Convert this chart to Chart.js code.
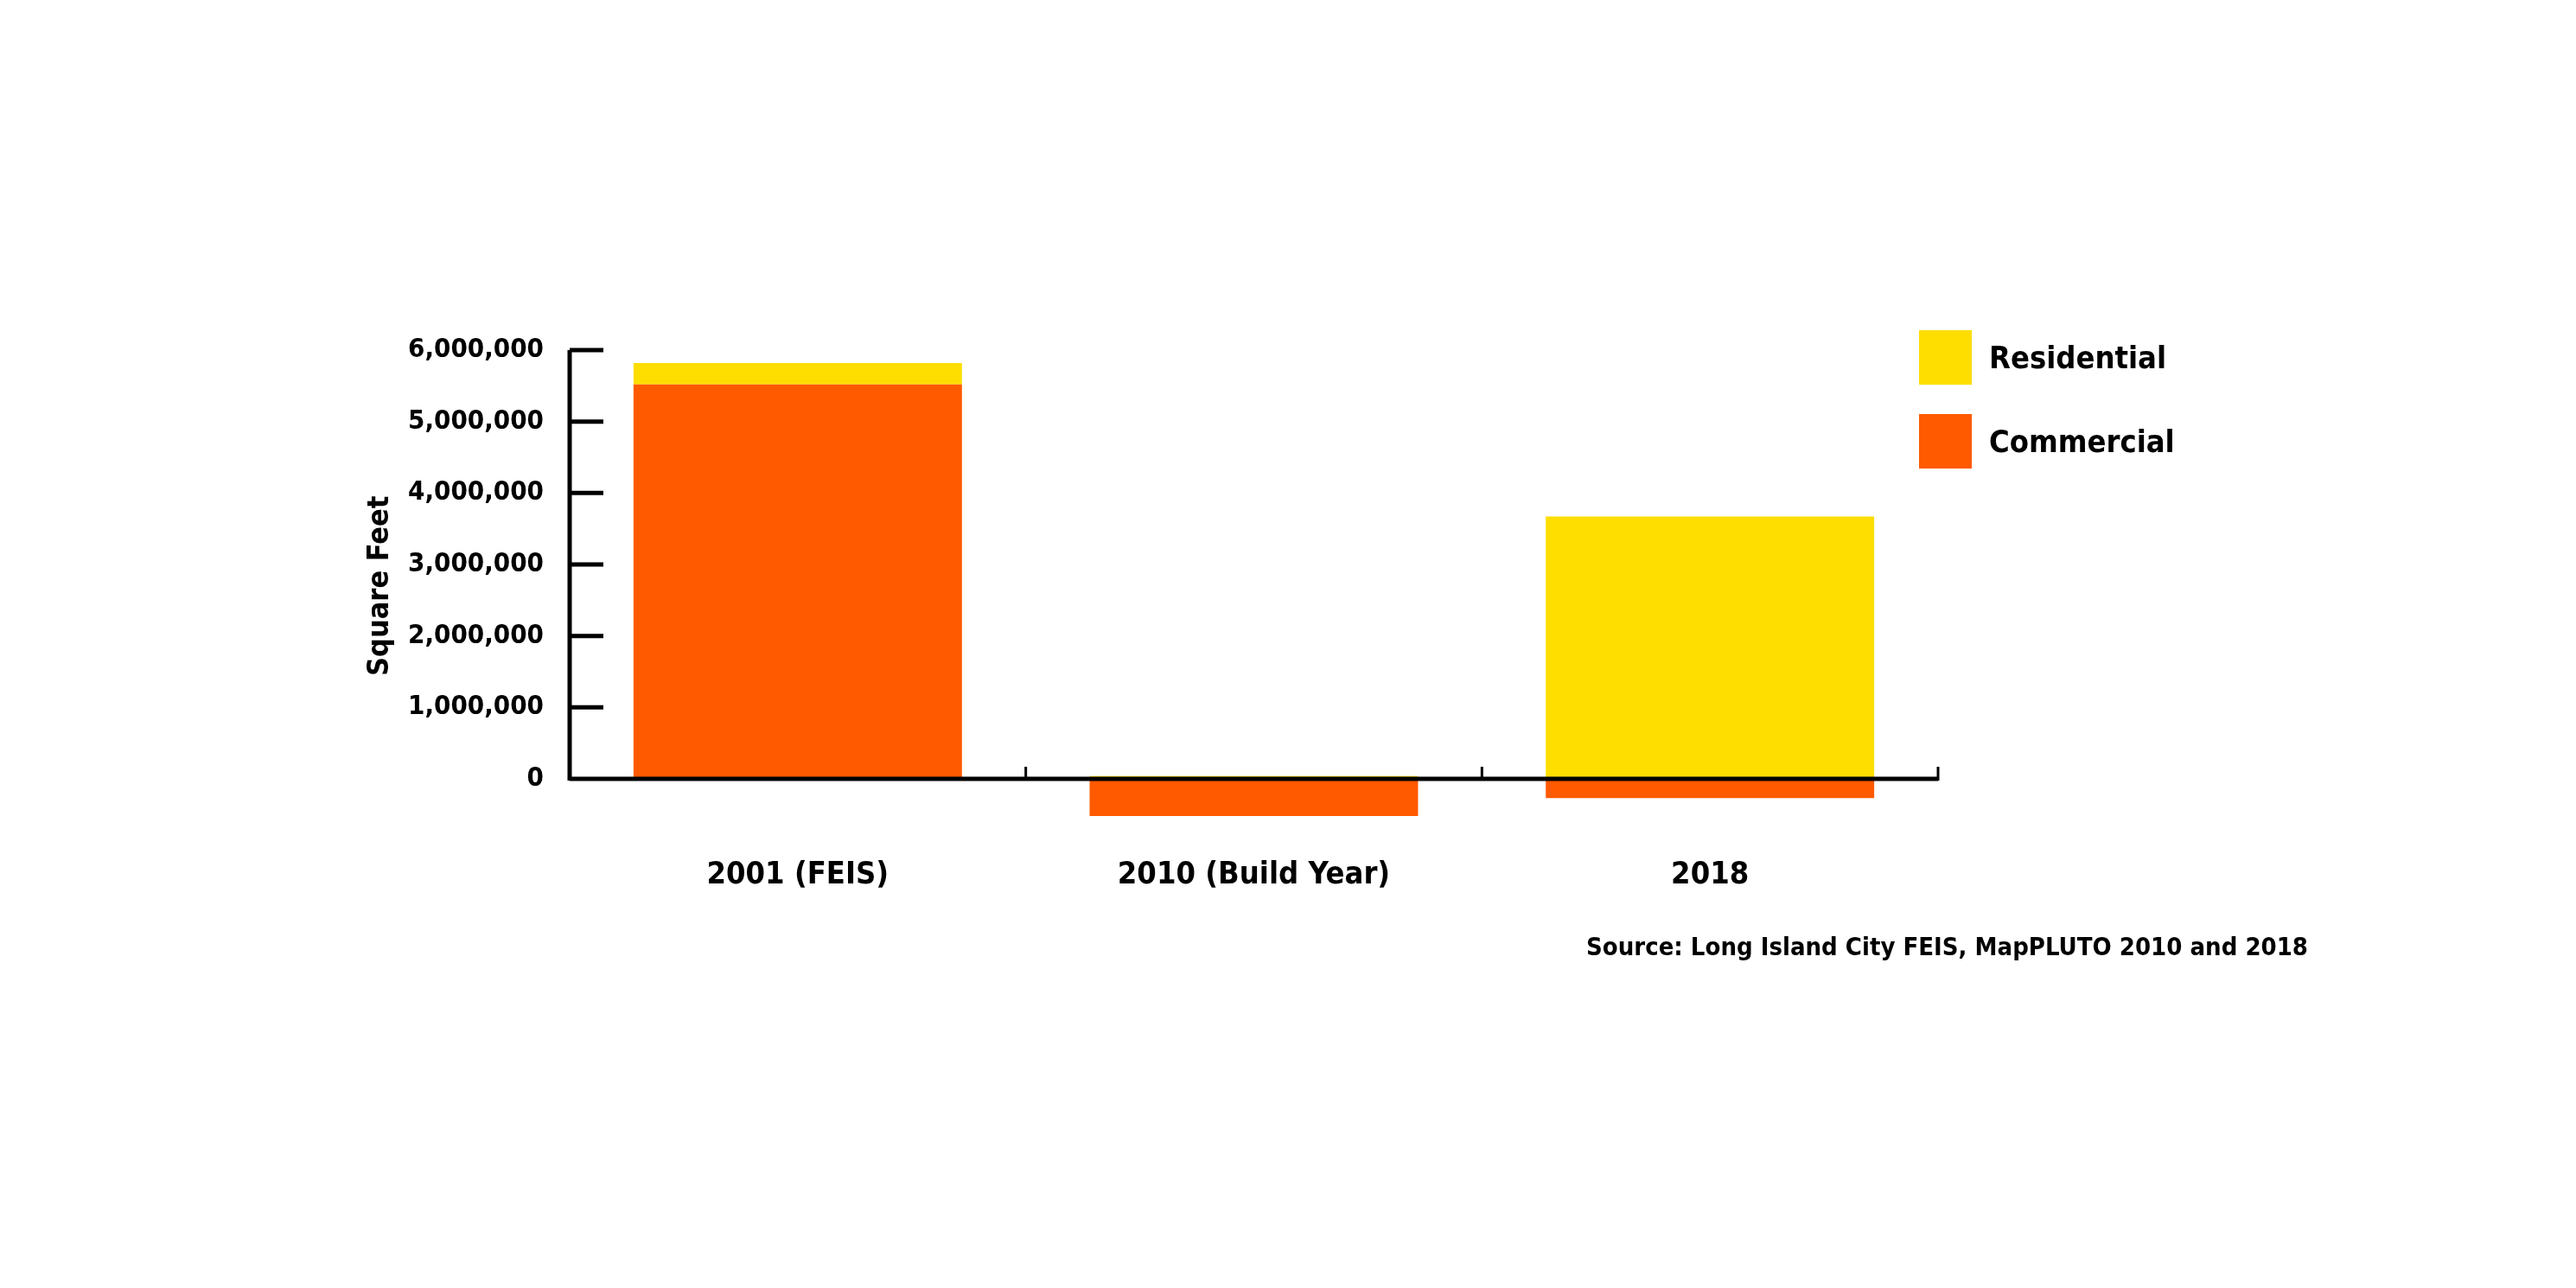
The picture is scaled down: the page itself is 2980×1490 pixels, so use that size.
<!DOCTYPE html>
<html>
<head>
<meta charset="utf-8">
<script src="https://cdn.jsdelivr.net/npm/chart.js@4"></script>
<style>
  body { margin: 0; background: #fff; }
  #wrap { position: relative; width: 2980px; height: 1490px; }
  .font { font-family: 'Liberation Sans Narrow', 'DejaVu Sans Condensed', sans-serif; font-weight: bold; color: #000; }
  .legend-item { position: absolute; left: 2220px; display: flex; align-items: center; font-size: 36px; }
  .swatch { width: 61px; height: 63px; margin-right: 20px; }
  #source { position: absolute; left: 1835px; top: 1078px; font-size: 29px; }
</style>
</head>
<body>
<div id="wrap">
  <canvas id="chart" width="2980" height="1490"></canvas>
  <div id="legend"></div>
  <div id="source" class="font">Source: Long Island City FEIS, MapPLUTO 2010 and 2018</div>
</div>
<script>
// Data
const categories = ['2001 (FEIS)', '2010 (Build Year)', '2018'];
const commercial = [5520000, -520000, -270000];
const residential = [300000, 40000, 3670000];
const seriesNames = ['Residential', 'Commercial'];
const seriesColors = { Residential: '#FEDD00', Commercial: '#FF5A00' };
const FONT = "'Liberation Sans Narrow', 'DejaVu Sans Condensed', sans-serif";

// Legend (Residential on top)
const legendEl = document.getElementById('legend');
seriesNames.forEach(function (name, i) {
  const item = document.createElement('div');
  item.className = 'legend-item font';
  item.style.top = (382 + i * 97) + 'px';
  item.innerHTML = '<div class="swatch" style="background:' + seriesColors[name] + '"></div>' + name;
  legendEl.appendChild(item);
});

// custom axis lines and ticks
const axesPlugin = {
  id: 'axesPlugin',
  afterDatasetsDraw(chart) {
    const ctx = chart.ctx;
    const y = chart.scales.y;
    const y0 = y.getPixelForValue(0);
    const yTop = y.getPixelForValue(6000000);
    const left = chart.chartArea.left, right = chart.chartArea.right;
    ctx.save();
    ctx.strokeStyle = '#000';
    ctx.lineWidth = 5;
    ctx.beginPath();
    ctx.moveTo(left, yTop); ctx.lineTo(left, y0 + 2);
    ctx.moveTo(left, y0); ctx.lineTo(right, y0);
    for (let v = 1000000; v <= 6000000; v += 1000000) {
      const py = y.getPixelForValue(v);
      ctx.moveTo(left, py); ctx.lineTo(left + 39, py);
    }
    ctx.stroke();
    ctx.lineWidth = 3;
    ctx.beginPath();
    const cw = (right - left) / categories.length;
    for (let k = 1; k <= categories.length; k++) {
      ctx.moveTo(left + cw * k, y0 - 14); ctx.lineTo(left + cw * k, y0 + 2);
    }
    ctx.stroke();
    ctx.restore();
  }
};

new Chart(document.getElementById('chart').getContext('2d'), {
  type: 'bar',
  data: {
    labels: categories,
    datasets: [
      { label: 'Commercial', data: commercial, backgroundColor: seriesColors.Commercial },
      { label: 'Residential', data: residential, backgroundColor: seriesColors.Residential }
    ]
  },
  options: {
    responsive: false,
    animation: false,
    layout: { padding: { left: 420, right: 738, top: 405, bottom: 0 } },
    datasets: { bar: { barPercentage: 0.72, categoryPercentage: 1 } },
    plugins: { legend: { display: false }, tooltip: { enabled: false } },
    scales: {
      x: {
        stacked: true,
        grid: { display: false },
        border: { display: false },
        ticks: { color: '#000', padding: 32, font: { family: FONT, size: 36, weight: 'bold' } },
        afterFit: function (s) { s.height = 1490 - 405 - 6.6 * 82.67; }
      },
      y: {
        stacked: true,
        min: -600000,
        max: 6000000,
        grid: { display: false },
        border: { display: false },
        afterBuildTicks: function (s) {
          s.ticks = [];
          for (let v = 0; v <= 6000000; v += 1000000) s.ticks.push({ value: v });
        },
        ticks: {
          color: '#000',
          padding: 22,
          font: { family: FONT, size: 31, weight: 'bold' },
          callback: function (v) { return v.toLocaleString('en-US'); }
        },
        title: { display: true, text: 'Square Feet', color: '#000', padding: 0, font: { family: FONT, size: 34, weight: 'bold' } },
        afterFit: function (s) { s.width = 239; }
      }
    }
  },
  plugins: [axesPlugin]
});
</script>
</body>
</html>
